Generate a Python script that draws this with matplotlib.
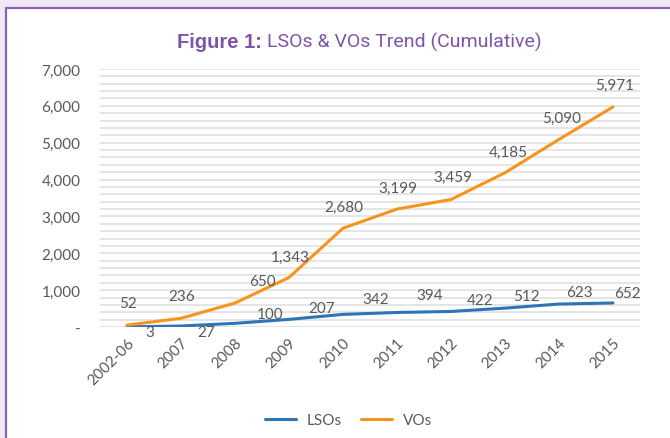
import matplotlib.pyplot as plt
from matplotlib.patches import Rectangle
from matplotlib.ticker import FuncFormatter, MultipleLocator

# -------------------------
# data
# -------------------------
years = ["2002-06", "2007", "2008", "2009", "2010", "2011", "2012", "2013", "2014", "2015"]
lsos = [3, 27, 100, 207, 342, 394, 422, 512, 623, 652]
vos = [52, 236, 650, 1343, 2680, 3199, 3459, 4185, 5090, 5971]

# label offsets in pixels (dx, dy), tuned by eye
lso_off = [(23, -5), (25, -6), (35, 9), (33, 11), (33, 15), (33, 17), (29, 11), (21, 12), (20, 12), (14, 10)]
vo_off = [(1, 22), (1, 22), (27, 22), (1, 21), (1, 21), (1, 21), (2, 23), (3, 21), (3, 22), (2, 22)]

BLUE = "#2E75B6"
ORANGE = "#F7941E"
GRAY = "#595959"
PURPLE = "#7E55A6"
font = ["Lato", "DejaVu Sans"]

fig = plt.figure(figsize=(6.7, 4.39), dpi=100)
fig.patch.set_facecolor("#EFE9F5")

# white panel with purple border on top/left
fig.patches.append(Rectangle((6 / 670, -0.1), 1.2, 0.1 + (439 - 9) / 439,
                             transform=fig.transFigure, facecolor="white",
                             edgecolor="#8A63B5", linewidth=1.6, zorder=-5))

ax = fig.add_axes([100 / 670, (439 - 328) / 439, 540 / 670, 258 / 439])
ax.set_zorder(2)
ax.set_facecolor("white")

x = list(range(len(years)))
ax.plot(x, lsos, color=BLUE, lw=2.2, label="LSOs", solid_capstyle="round", zorder=3)
ax.plot(x, vos, color=ORANGE, lw=2.2, label="VOs", solid_capstyle="round", zorder=3)

for i, v in enumerate(lsos):
    ax.annotate(f"{v:,}", (i, v), xytext=lso_off[i], textcoords="offset pixels",
                ha="center", va="center", color=GRAY, fontsize=11, family=font)
for i, v in enumerate(vos):
    ax.annotate(f"{v:,}", (i, v), xytext=vo_off[i], textcoords="offset pixels",
                ha="center", va="center", color=GRAY, fontsize=11, family=font)

ax.set_xlim(-0.5, len(years) - 0.5)
ax.set_ylim(0, 7000)
ax.yaxis.set_major_locator(MultipleLocator(1000))
ax.yaxis.set_minor_locator(MultipleLocator(200))
ax.yaxis.set_major_formatter(FuncFormatter(lambda v, p: "-" if v == 0 else f"{int(v):,}"))
ax.grid(True, which="both", axis="y", color="#DEDEDE", lw=1.1, zorder=0)
ax.set_axisbelow(True)

ax.set_xticks(x)
ax.set_xticklabels(years, rotation=45, ha="right", rotation_mode="anchor")
for lab in ax.get_xticklabels() + ax.get_yticklabels():
    lab.set_color(GRAY)
    lab.set_fontsize(11)
    lab.set_family(font)
ax.tick_params(axis="both", which="both", length=0)
ax.tick_params(axis="y", pad=14)
ax.tick_params(axis="x", pad=6)
for s in ax.spines.values():
    s.set_visible(False)

# title
ty = (439 - 42) / 439
fig.text(262 / 670, ty, "Figure 1:", ha="right", va="center",
         fontsize=14.5, fontweight="bold", color=PURPLE, family=["Liberation Sans", "DejaVu Sans"])
fig.text(267 / 670, ty, "LSOs & VOs Trend (Cumulative)", ha="left", va="center",
         fontsize=14, color=PURPLE, family=["Roboto", "DejaVu Sans"])

leg = fig.legend(loc="center", bbox_to_anchor=(0.52, (439 - 421) / 439), ncol=2, frameon=False,
                 handlelength=2.0, handletextpad=0.7, columnspacing=1.3,
                 prop={"family": font, "size": 11})
for t in leg.get_texts():
    t.set_color(GRAY)

fig.savefig("out.png", dpi=100, facecolor=fig.get_facecolor())
